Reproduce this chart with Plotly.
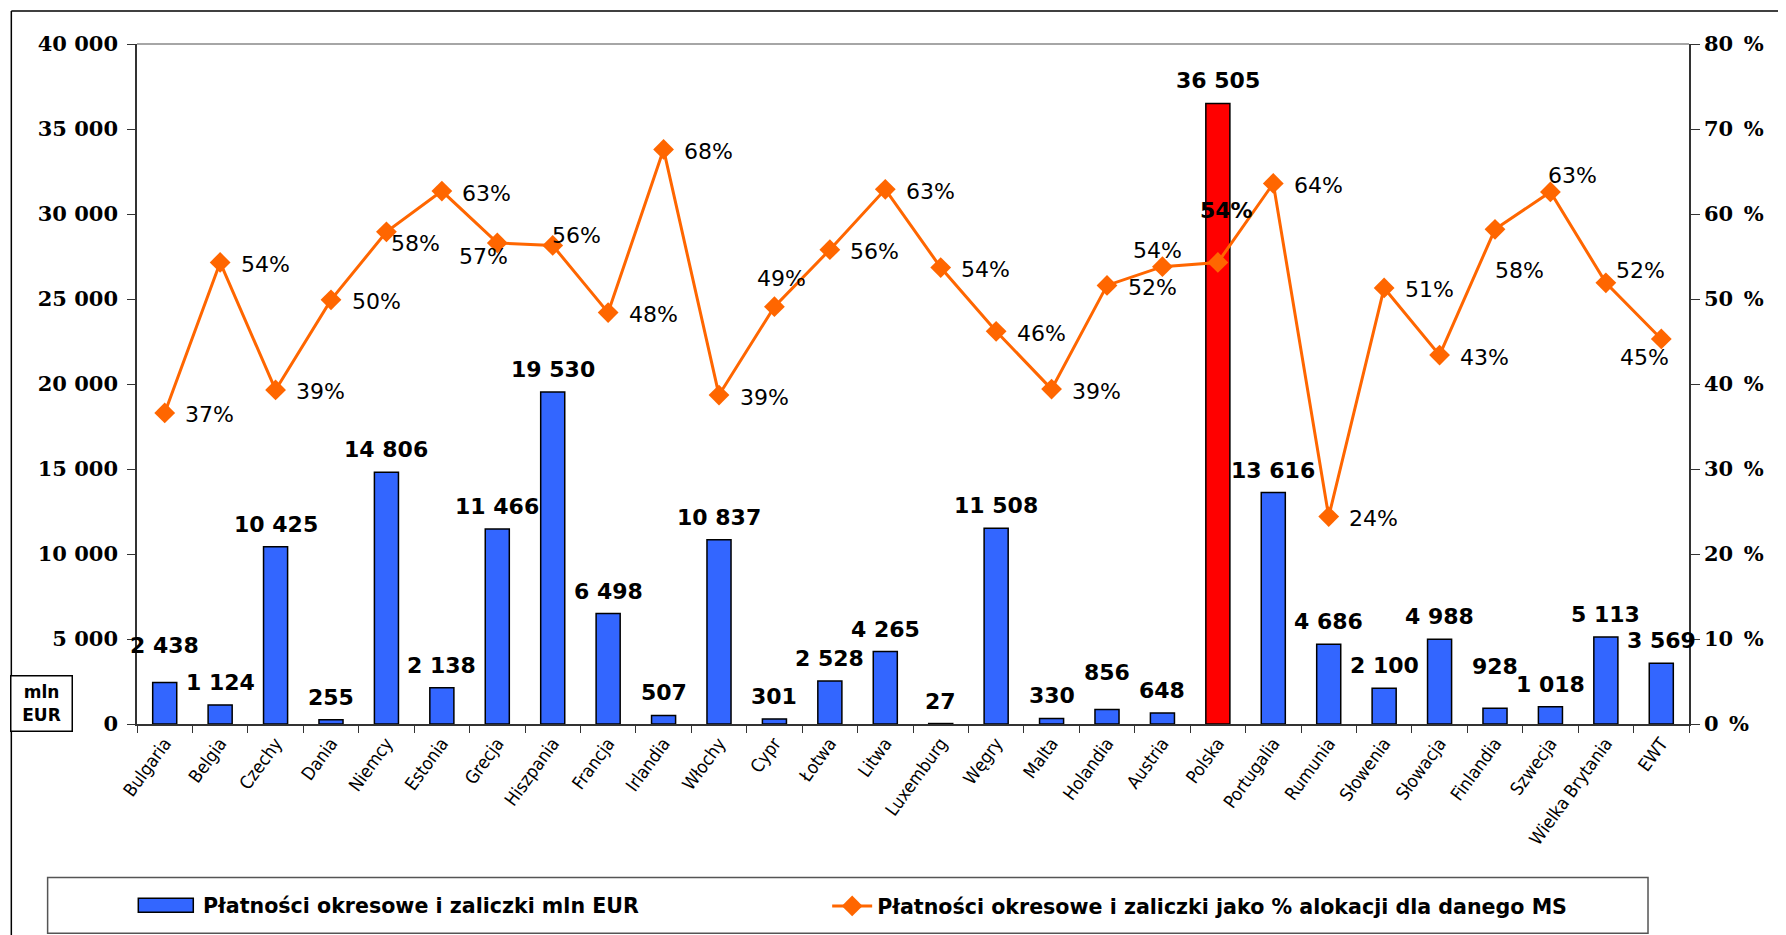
import plotly.graph_objects as go

countries = ["Bulgaria", "Belgia", "Czechy", "Dania", "Niemcy", "Estonia", "Grecja", "Hiszpania",
             "Francja", "Irlandia", "Włochy", "Cypr", "Łotwa", "Litwa", "Luxemburg", "Węgry",
             "Malta", "Holandia", "Austria", "Polska", "Portugalia", "Rumunia", "Słowenia",
             "Słowacja", "Finlandia", "Szwecja", "Wielka Brytania", "EWT"]
payments = [2438, 1124, 10425, 255, 14806, 2138, 11466, 19530, 6498, 507, 10837, 301, 2528, 4265,
            27, 11508, 330, 856, 648, 36505, 13616, 4686, 2100, 4988, 928, 1018, 5113, 3569]
percent = [36.6, 54.3, 39.3, 49.9, 57.9, 62.7, 56.6, 56.3, 48.4, 67.6, 38.7, 49.1, 55.8, 62.9,
           53.7, 46.2, 39.4, 51.6, 53.8, 54.3, 63.6, 24.4, 51.3, 43.4, 58.2, 62.6, 51.9, 45.3]
pct_labels = ["37%", "54%", "39%", "50%", "58%", "63%", "57%", "56%", "48%", "68%", "39%", "49%",
              "56%", "63%", "54%", "46%", "39%", "52%", "54%", "54%", "64%", "24%", "51%", "43%",
              "58%", "63%", "52%", "45%"]
highlight = "Polska"

bar_names = "Płatności okresowe i zaliczki mln EUR"
line_names = "Płatności okresowe i zaliczki jako % alokacji dla danego MS"
y_ticks = [0, 5000, 10000, 15000, 20000, 25000, 30000, 35000, 40000]
y2_ticks = [0, 10, 20, 30, 40, 50, 60, 70, 80]
y2_text = [f"{v}\u2002%" for v in y2_ticks]

# label placement (style): offset of label centre from marker, in px (dx right, dy down)
RIGHT = (45, 2)
pct_offsets = {
    "Niemcy": (29, 12), "Grecja": (-14, 14), "Hiszpania": (24, -10), "Cypr": (7, -28),
    "Austria": (-5, -16), "Polska": (9, -52), "Finlandia": (24, 41), "Szwecja": (22, -16),
    "Wielka Brytania": (35, -12), "EWT": (-17, 19),
}
bar_label_lift = {"Bulgaria": 15, "Holandia": 14, "Finlandia": 19}

BLUE, RED, ORANGE = "#3366FF", "#FF0000", "#FF6600"
bar_colors = [RED if c == highlight else BLUE for c in countries]
bar_text = [f"{v:,}".replace(",", " ") for v in payments]

OFF = 8  # page body margin
FW, FH = 1786, 935
L, R, T, B = 136.7 - OFF, 1689 - OFF, 43.7 - OFF, 724.5 - OFF
W, H = R - L, B - T


def px(x):
    return (x - OFF - L) / W


def py(y):
    return (B - (y - OFF)) / H


fig = go.Figure()
fig.add_trace(go.Bar(
    x=countries, y=payments, name=bar_names, showlegend=False,
    marker=dict(color=bar_colors, line=dict(color="#000000", width=1.5)),
))
fig.add_trace(go.Scatter(
    x=countries, y=percent, name=line_names, yaxis="y2", mode="lines+markers",
    line=dict(color=ORANGE, width=3),
    marker=dict(symbol="diamond", size=16, color=ORANGE),
    cliponaxis=False, showlegend=True,
))

annotations = []
for c, v, t in zip(countries, payments, bar_text):
    annotations.append(dict(
        x=c, y=v, xref="x", yref="y", text=t, showarrow=False,
        xanchor="center", yanchor="bottom", yshift=8 + bar_label_lift.get(c, 0),
        font=dict(family="DejaVu Sans", size=22, color="#000000", weight="bold"),
    ))
for c, v, t in zip(countries, percent, pct_labels):
    dx, dy = pct_offsets.get(c, RIGHT)
    annotations.append(dict(
        x=c, y=v, xref="x", yref="y2", text=t, showarrow=False,
        xanchor="center", yanchor="middle", xshift=dx, yshift=-dy,
        font=dict(family="DejaVu Sans", size=22, color="#000000",
                  weight="bold" if c == highlight else "normal"),
    ))
annotations.append(dict(
    xref="paper", yref="paper", x=px(41.5), y=py(704), text="mln<br>EUR",
    showarrow=False, font=dict(family="DejaVu Sans", size=17, color="#000000", weight="bold"),
    bordercolor="#000000", borderwidth=1.5, bgcolor="white", width=58, height=52,
    xanchor="center", yanchor="middle",
))
# legend entry for the bar series (wide swatch as in the original)
annotations.append(dict(
    xref="paper", yref="paper", x=px(201), y=py(906.7), text=bar_names, showarrow=False,
    xanchor="left", yanchor="middle",
    font=dict(family="DejaVu Sans", size=20.6, color="#000000", weight="bold"),
))

fig.update_layout(
    width=FW, height=FH,
    margin=dict(l=L, r=FW - R, t=T, b=FH - B),
    paper_bgcolor="white", plot_bgcolor="white",
    separators=". ",
    bargap=0.566,
    legend=dict(orientation="h", x=px(827), xanchor="left", y=py(906.7), yanchor="middle",
                font=dict(family="DejaVu Sans", size=20.6, color="#000000", weight="bold"),
                bgcolor="rgba(0,0,0,0)", borderwidth=0, itemwidth=40),
    xaxis=dict(type="category", range=[-0.5, len(countries) - 0.5], tickson="boundaries",
               ticks="outside", ticklen=7, tickcolor="#333333", showline=True,
               linecolor="#333333", linewidth=1.5, tickangle=-54, showgrid=False,
               tickfont=dict(family="DejaVu Sans Condensed", size=18, color="#000000")),
    yaxis=dict(range=[0, 40000], tickvals=y_ticks, tickformat=",d", ticks="outside",
               ticklen=8, tickcolor="#333333", showline=True, linecolor="#333333",
               linewidth=1.5, showgrid=False, zeroline=False, ticklabelstandoff=5,
               tickfont=dict(family="DejaVu Serif", size=21, color="#000000", weight="bold")),
    yaxis2=dict(range=[0, 80], overlaying="y", side="right", tickvals=y2_ticks,
                ticktext=y2_text, ticks="outside", ticklen=9, tickcolor="#333333",
                showline=True, linecolor="#333333", linewidth=1.5, showgrid=False,
                zeroline=False,
                tickfont=dict(family="DejaVu Serif", size=21, color="#000000", weight="bold")),
    shapes=[
        dict(type="line", xref="paper", yref="paper", x0=0, x1=1, y0=1, y1=1,
             line=dict(color="#888888", width=1.5)),
        dict(type="line", xref="paper", yref="paper", x0=px(11), x1=px(11), y0=py(10.7),
             y1=py(980), line=dict(color="#000000", width=1.5)),
        dict(type="line", xref="paper", yref="paper", x0=px(11), x1=px(1810), y0=py(10.7),
             y1=py(10.7), line=dict(color="#000000", width=1.5)),
        dict(type="rect", xref="paper", yref="paper", x0=px(47.3), x1=px(1648), y0=py(878.3),
             y1=py(934), line=dict(color="#555555", width=1.5)),
        dict(type="rect", xref="paper", yref="paper", x0=px(138), x1=px(193), y0=py(899),
             y1=py(913), fillcolor=BLUE, line=dict(color="#000000", width=1.5)),
    ],
    annotations=annotations,
)

fig.write_html("out.html")
